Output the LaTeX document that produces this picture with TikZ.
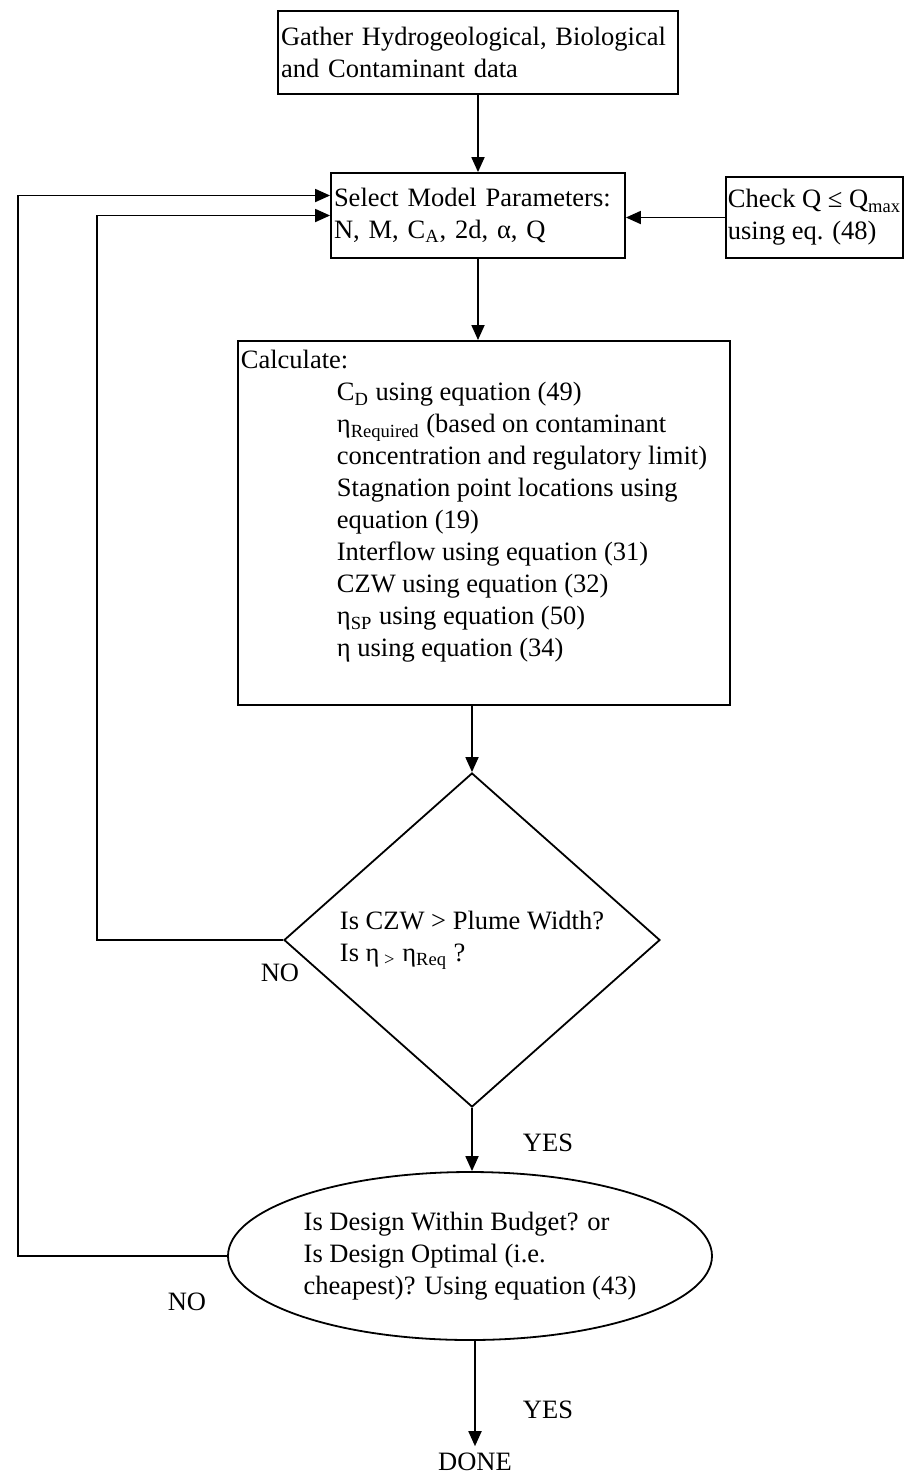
\documentclass[tikz,border=0pt]{standalone}
\usepackage{fontspec}
\setmainfont{Liberation Serif}
\usetikzlibrary{shapes.geometric,arrows.meta}

\tikzset{
    box/.style={draw, line width=0.9pt, inner sep=1.5pt},
    answer/.style={inner sep=0pt}
}

\begin{document}
\begin{tikzpicture}[x=0.5pt, y=-0.5pt, line width=0.9pt, >={Triangle[length=7.5pt,width=6.5pt]},
    font=\fontsize{13.25pt}{16pt}\selectfont]
    \useasboundingbox (0,0) rectangle (908,1480);

    % input boxes
    \node[box, align=left, minimum width=200pt, minimum height=41.5pt, text width=197pt] (gather) at (478,52.5)
        {Gather Hydrogeological, Biological\\and Contaminant data};
    \node[box, align=left, minimum width=147pt, minimum height=42.5pt, text width=144pt] (select) at (478,215.5)
        {Select Model Parameters:\\N, M, C\textsubscript{A}, 2d, α, Q};
    \node[box, align=left, minimum width=88.5pt, minimum height=40.5pt, inner xsep=1pt] (check) at (814.5,217.5)
        {Check Q ≤ Q\textsubscript{max}\\using eq. (48)};

    % calculation box
    \node[box, anchor=north west] (calc) at (237,340) {%
        \begin{minipage}[t][179pt][t]{243pt}\raggedright
        \rule{0pt}{12.5pt}Calculate:\par
        {\leftskip=48pt
        C\textsubscript{D} using equation (49)\par
        η\textsubscript{Required} (based on contaminant\par
        concentration and regulatory limit)\par
        Stagnation point locations using\par
        equation (19)\par
        Interflow using equation (31)\par
        CZW using equation (32)\par
        η\textsubscript{SP} using equation (50)\par
        η using equation (34)\par}
        \end{minipage}};

    % decisions
    \node[draw, diamond, minimum width=188pt, minimum height=167pt, inner sep=0pt, align=left] (dec) at (472,940)
        {Is CZW > Plume Width?\\Is η\textsubscript{ >} η\textsubscript{Req} ?};
    \node[draw, ellipse, minimum width=242pt, minimum height=84pt, inner sep=0pt, align=left] (budget) at (470,1256)
        {Is Design Within Budget? or\\Is Design Optimal (i.e.\\cheapest)? Using equation (43)};
    \node[answer] (done) at (475,1462) {DONE};

    % labels
    \node[answer] (yesA) at (548,1143) {YES};
    \node[answer] (noA) at (280,973) {NO};
    \node[answer] (noB) at (187,1302) {NO};
    \node[answer] (yesB) at (548,1410) {YES};

    % connections
    \draw[->] (gather) -- (select);
    \draw[->] (select) -- (select.south |- calc.north);
    \draw[->] (check) -- (check -| select.east);
    \draw[->] (dec.north |- calc.south) -- (dec);
    \draw[->] (dec) -- (dec.south |- budget.north);
    \draw[->] (done.north |- budget.south) -- ([yshift=3pt]done.north);

    % feedback loops
    \coordinate (loopA) at (97,0);
    \coordinate (loopB) at (18,0);
    \draw[->] (dec.west) -- (dec.west -| loopA) |- (select.west);
    \draw[->] (budget.west) -- (budget.west -| loopB) |- ([yshift=10pt]select.west);
\end{tikzpicture}
\end{document}
